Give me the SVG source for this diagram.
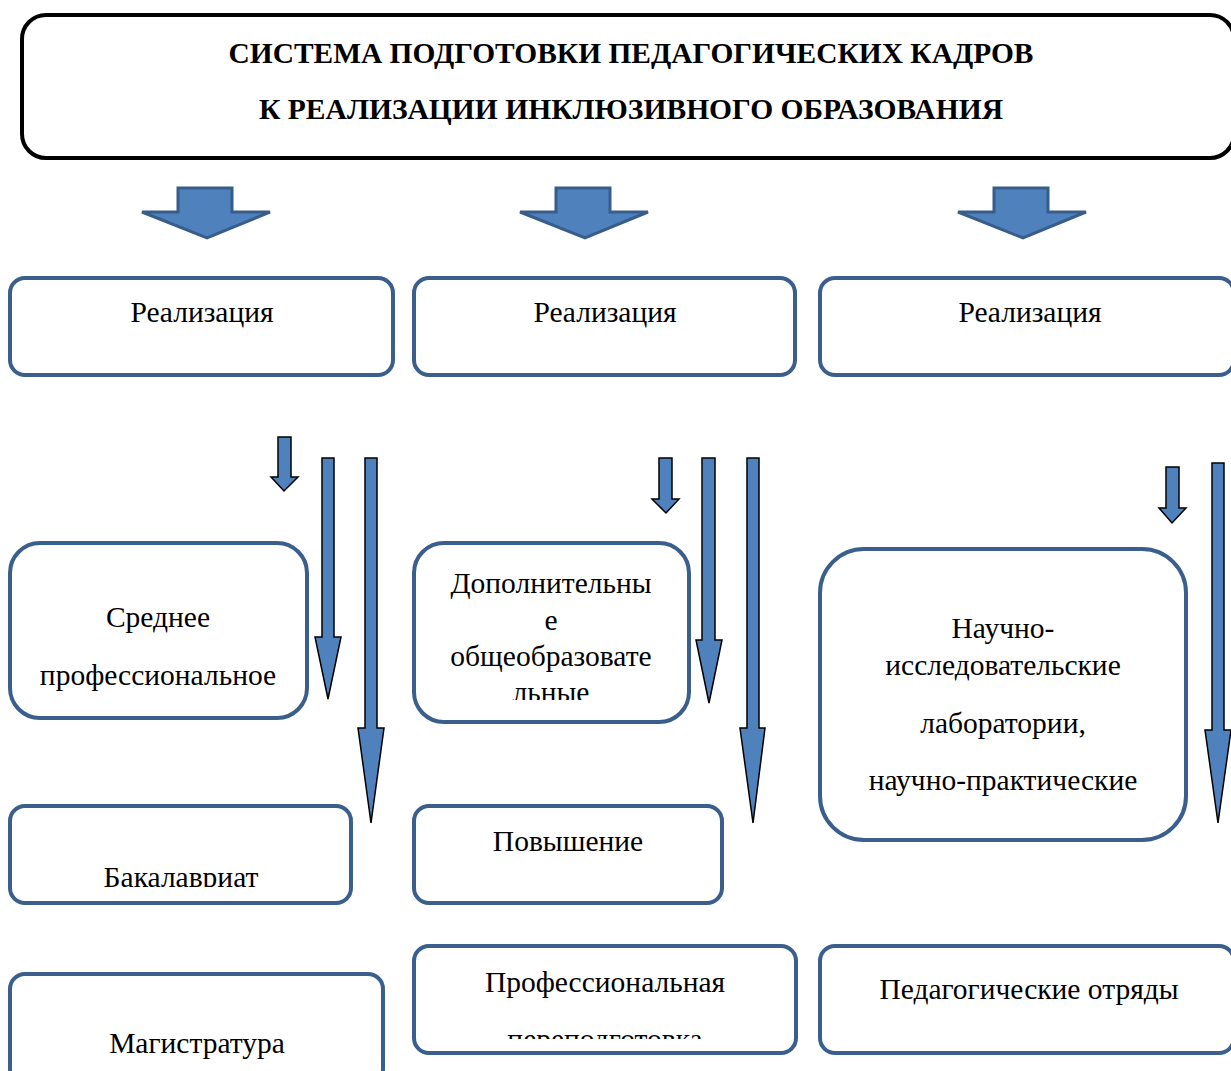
<svg xmlns="http://www.w3.org/2000/svg" width="1231" height="1071" viewBox="0 0 1231 1071">
<style>
.box{fill:#fff;stroke:#3B5F8D;stroke-width:4}
.t{font-family:"Liberation Serif","DejaVu Serif",serif;font-size:29.5px;fill:#000;text-anchor:middle}
.title{font-family:"Liberation Serif","DejaVu Serif",serif;font-size:29px;font-weight:bold;fill:#000;text-anchor:middle}
.big{fill:#4F81BD;stroke:#385D8A;stroke-width:3;stroke-linejoin:miter}
.thin{fill:#4F81BD;stroke:#000;stroke-width:1.5}
</style>
<defs>
<clipPath id="c1"><rect x="414" y="540" width="280" height="160"/></clipPath>
<clipPath id="c2"><rect x="10" y="800" width="340" height="87"/></clipPath>
<clipPath id="c3"><rect x="414" y="940" width="380" height="99"/></clipPath>
</defs>
<rect width="1231" height="1071" fill="#fff"/>

<g id="title">
<rect x="22" y="15" width="1212" height="143" rx="24" fill="#fff" stroke="#000" stroke-width="4"/>
<text class="title" x="631" y="63" textLength="805" lengthAdjust="spacingAndGlyphs">СИСТЕМА ПОДГОТОВКИ ПЕДАГОГИЧЕСКИХ КАДРОВ</text>
<text class="title" x="631" y="119" textLength="744" lengthAdjust="spacingAndGlyphs">К РЕАЛИЗАЦИИ ИНКЛЮЗИВНОГО ОБРАЗОВАНИЯ</text>
</g>

<g id="connectors">
<path class="big" d="M178,188 H232 V212 H270 L207,238 L142,212 H178 Z"/>
<path class="big" d="M556,188 H610 V212 H648 L585,238 L520,212 H556 Z"/>
<path class="big" d="M994,188 H1048 V212 H1086 L1023,238 L958,212 H994 Z"/>

<path class="thin" d="M278,437 H291 V477 H298 L284,491 L271,477 H278 Z"/>
<path class="thin" d="M322,458 H334 V637 H341 L328,699 L315,637 H322 Z"/>
<path class="thin" d="M365,458 H377 V728 H384 L371,823 L358,728 H365 Z"/>

<path class="thin" d="M659,458 H672 V499 H679 L666,513 L652,499 H659 Z"/>
<path class="thin" d="M702,458 H715 V640 H722 L709,703 L696,640 H702 Z"/>
<path class="thin" d="M747,458 H759 V728 H765 L753,823 L740,728 H747 Z"/>

<path class="thin" d="M1166,467 H1179 V508 H1186 L1172,523 L1159,508 H1166 Z"/>
<path class="thin" d="M1212,463 H1224 V730 H1231 L1218,823 L1205,730 H1212 Z"/>
</g>

<g id="real1">
<rect class="box" x="10" y="278" width="383" height="97" rx="15"/>
<text class="t" x="202" y="322">Реализация</text>
</g>
<g id="real2">
<rect class="box" x="414" y="278" width="381" height="97" rx="15"/>
<text class="t" x="605" y="322">Реализация</text>
</g>
<g id="real3">
<rect class="box" x="820" y="278" width="414" height="97" rx="15"/>
<text class="t" x="1030" y="322">Реализация</text>
</g>

<g id="spo">
<rect class="box" x="10" y="543" width="297" height="175" rx="30"/>
<text class="t" x="158" y="627">Среднее</text>
<text class="t" x="158" y="685">профессиональное</text>
</g>

<g id="dop">
<rect class="box" x="414" y="543" width="275" height="179" rx="30"/>
<g clip-path="url(#c1)">
<text class="t" x="551" y="593">Дополнительны</text>
<text class="t" x="551" y="630">е</text>
<text class="t" x="551" y="666">общеобразовате</text>
<text class="t" x="551" y="702">льные</text>
</g>
</g>

<g id="nauch">
<rect class="box" x="820" y="549" width="366" height="291" rx="44"/>
<text class="t" x="1003" y="638">Научно-</text>
<text class="t" x="1003" y="675">исследовательские</text>
<text class="t" x="1003" y="733">лаборатории,</text>
<text class="t" x="1003" y="790">научно-практические</text>
</g>

<g id="bak">
<rect class="box" x="10" y="806" width="341" height="97" rx="15"/>
<g clip-path="url(#c2)">
<text class="t" x="181" y="887">Бакалавриат</text>
</g>
</g>

<g id="pov">
<rect class="box" x="414" y="806" width="308" height="97" rx="15"/>
<text class="t" x="568" y="851">Повышение</text>
</g>

<g id="mag">
<rect class="box" x="10" y="974" width="373" height="110" rx="15"/>
<text class="t" x="197" y="1053">Магистратура</text>
</g>

<g id="prof">
<rect class="box" x="414" y="946" width="382" height="107" rx="15"/>
<text class="t" x="605" y="992">Профессиональная</text>
<g clip-path="url(#c3)">
<text class="t" x="605" y="1049">переподготовка</text>
</g>
</g>

<g id="ped">
<rect class="box" x="820" y="946" width="414" height="107" rx="15"/>
<text class="t" x="1029" y="999">Педагогические отряды</text>
</g>
</svg>
